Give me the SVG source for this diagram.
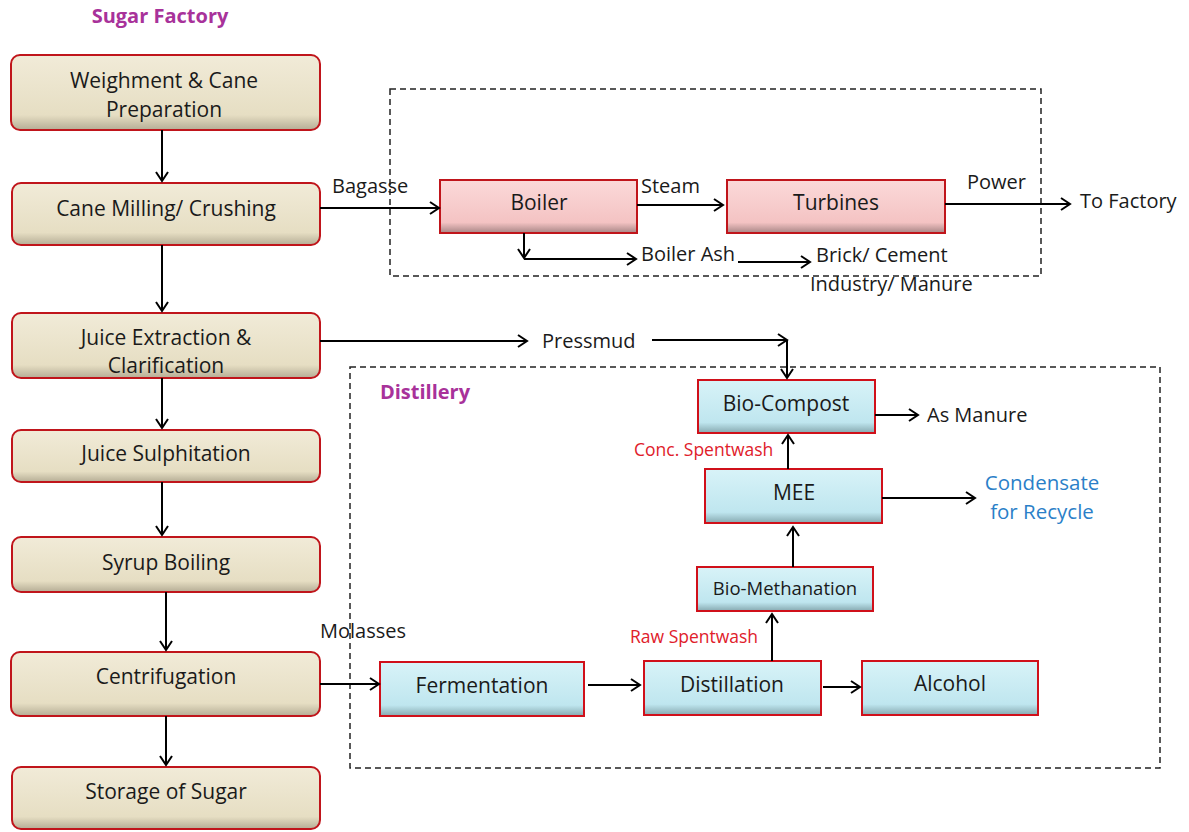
<svg xmlns="http://www.w3.org/2000/svg" width="1189" height="832" viewBox="0 0 1189 832">
<defs>
<linearGradient id="gBeige" x1="0" y1="0" x2="0" y2="1">
<stop offset="0" stop-color="#f1ebd8"/><stop offset="0.8" stop-color="#e6dec3"/><stop offset="1" stop-color="#b5ad95"/>
</linearGradient>
<linearGradient id="gPink" x1="0" y1="0" x2="0" y2="1">
<stop offset="0" stop-color="#fbd9d9"/><stop offset="0.8" stop-color="#f4c3c3"/><stop offset="1" stop-color="#a88686"/>
</linearGradient>
<linearGradient id="gBlue" x1="0" y1="0" x2="0" y2="1">
<stop offset="0" stop-color="#d8f3f8"/><stop offset="0.8" stop-color="#bfe6ef"/><stop offset="1" stop-color="#86a9b0"/>
</linearGradient>
<marker id="arr" markerWidth="14" markerHeight="14" refX="11" refY="7" orient="auto" markerUnits="userSpaceOnUse">
<path d="M2,1 L11,7 L2,13" fill="none" stroke="#000" stroke-width="2"/>
</marker>
</defs>
<style>
.bg{fill:#fff}
.beige{fill:url(#gBeige);stroke:#c0151b;stroke-width:2}
.pink{fill:url(#gPink);stroke:#c0151b;stroke-width:2}
.blue{fill:url(#gBlue);stroke:#d0101a;stroke-width:2}
.t{font-family:"Open Sans","Liberation Sans",sans-serif;font-size:21px;fill:#1a1a1a;text-anchor:middle}
.l{font-family:"Open Sans","Liberation Sans",sans-serif;font-size:20px;fill:#1a1a1a}
.mag{font-family:"Open Sans","Liberation Sans",sans-serif;font-size:20px;font-weight:bold;fill:#a8329a}
.red{font-family:"Open Sans","Liberation Sans",sans-serif;font-size:17.5px;fill:#e0202a}
.bl{font-family:"Open Sans","Liberation Sans",sans-serif;font-size:20.5px;fill:#2b7fc8;text-anchor:middle}
.dash{fill:none;stroke:#222;stroke-width:1.5;stroke-dasharray:6,4}
.c{fill:none;stroke:#000;stroke-width:2;marker-end:url(#arr)}
.cn{fill:none;stroke:#000;stroke-width:2}
</style>
<rect class="bg" width="1189" height="832"/>
<text class="mag" x="160" y="23" text-anchor="middle">Sugar Factory</text>
<rect class="dash" x="390" y="89" width="651" height="187"/>
<rect class="dash" x="350" y="367" width="810" height="401"/>
<text class="mag" x="425" y="399" text-anchor="middle">Distillery</text>

<g id="weighment"><rect class="beige" x="11" y="55" width="309" height="75" rx="9"/><text class="t" x="164" y="88">Weighment &amp; Cane</text><text class="t" x="164" y="117">Preparation</text></g>
<g id="milling"><rect class="beige" x="12" y="183" width="308" height="62" rx="9"/><text class="t" x="166" y="216">Cane Milling/ Crushing</text></g>
<g id="extraction"><rect class="beige" x="12" y="313" width="308" height="65" rx="9"/><text class="t" x="166" y="345">Juice Extraction &amp;</text><text class="t" x="166" y="373">Clarification</text></g>
<g id="sulphitation"><rect class="beige" x="12" y="430" width="308" height="52" rx="9"/><text class="t" x="166" y="461">Juice Sulphitation</text></g>
<g id="syrup"><rect class="beige" x="12" y="537" width="308" height="55" rx="9"/><text class="t" x="166" y="570">Syrup Boiling</text></g>
<g id="centrifugation"><rect class="beige" x="11" y="652" width="309" height="64" rx="9"/><text class="t" x="166" y="684">Centrifugation</text></g>
<g id="storage"><rect class="beige" x="12" y="767" width="308" height="62" rx="9"/><text class="t" x="166" y="799">Storage of Sugar</text></g>

<g id="boiler"><rect class="pink" x="440" y="180" width="197" height="53"/><text class="t" x="539" y="210">Boiler</text></g>
<g id="turbines"><rect class="pink" x="727" y="180" width="218" height="53"/><text class="t" x="836" y="210">Turbines</text></g>

<g id="biocompost"><rect class="blue" x="698" y="380" width="177" height="53"/><text class="t" x="786" y="411">Bio-Compost</text></g>
<g id="mee"><rect class="blue" x="705" y="469" width="177" height="54"/><text class="t" x="794" y="500">MEE</text></g>
<g id="biomethanation"><rect class="blue" x="697" y="567" width="176" height="44"/><text class="t" x="785" y="595" style="font-size:18.5px">Bio-Methanation</text></g>
<g id="fermentation"><rect class="blue" x="380" y="662" width="204" height="54"/><text class="t" x="482" y="693">Fermentation</text></g>
<g id="distillation"><rect class="blue" x="644" y="661" width="177" height="54"/><text class="t" x="732" y="692">Distillation</text></g>
<g id="alcohol"><rect class="blue" x="862" y="661" width="176" height="54"/><text class="t" x="950" y="691">Alcohol</text></g>

<g id="connectors">
<path class="c" d="M162,130 V181"/>
<path class="c" d="M162,245 V311"/>
<path class="c" d="M162,378 V428"/>
<path class="c" d="M162,482 V535"/>
<path class="c" d="M166,592 V650"/>
<path class="c" d="M166,716 V765"/>
<path class="c" d="M320,208 H439"/>
<path class="c" d="M637,205 H723"/>
<path class="c" d="M945,204 H1070"/>
<path class="c" d="M524,233 V258"/>
<path class="c" d="M524,259 H636"/>
<path class="c" d="M738,262 H810"/>
<path class="c" d="M320,341 H527"/>
<path class="c" d="M652,340 H787"/>
<path class="c" d="M787,340 V378"/>
<path class="c" d="M875,415 H918"/>
<path class="c" d="M788,469 V435"/>
<path class="c" d="M882,498 H975"/>
<path class="c" d="M793,567 V527"/>
<path class="c" d="M772,661 V614"/>
<path class="c" d="M320,684 H379"/>
<path class="c" d="M588,685 H640"/>
<path class="c" d="M823,687 H860"/>
</g>

<text class="l" x="332" y="193">Bagasse</text>
<text class="l" x="641" y="193">Steam</text>
<text class="l" x="967" y="189">Power</text>
<text class="l" x="1080" y="208">To Factory</text>
<text class="l" x="641" y="261">Boiler Ash</text>
<text class="l" x="816" y="262">Brick/ Cement</text>
<text class="l" x="810" y="291">Industry/ Manure</text>
<text class="l" x="542" y="348">Pressmud</text>
<text class="l" x="927" y="422">As Manure</text>
<text class="red" x="634" y="456">Conc. Spentwash</text>
<text class="bl" x="1042" y="490">Condensate</text>
<text class="bl" x="1042" y="519">for Recycle</text>
<text class="red" x="630" y="643">Raw Spentwash</text>
<text class="l" x="320" y="638">Molasses</text>
</svg>
